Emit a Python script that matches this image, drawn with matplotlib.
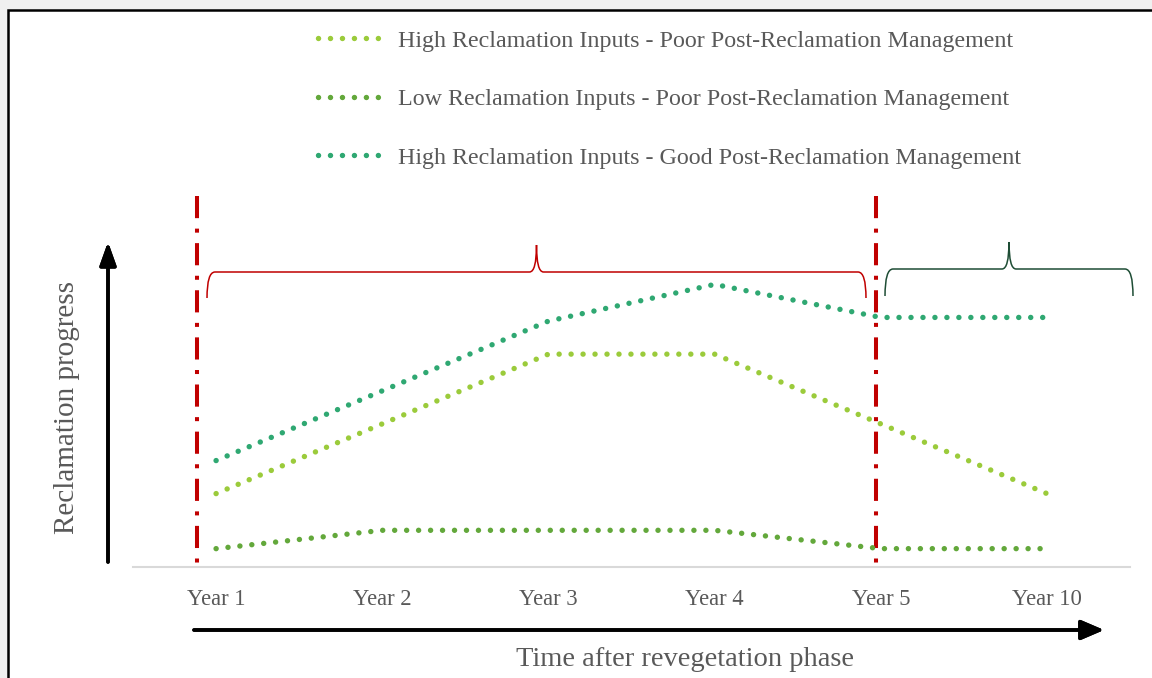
import matplotlib.pyplot as plt
from matplotlib.lines import Line2D
from matplotlib.patches import Rectangle, PathPatch
from matplotlib.path import Path
import matplotlib.transforms as mtransforms

# datos (escala relativa 0-100)
years = ['Year 1', 'Year 2', 'Year 3', 'Year 4', 'Year 5', 'Year 10']
high_poor = [20, 39, 58, 58, 39, 20]
low_poor = [5, 10, 10, 10, 5, 5]
high_good = [29, 48, 67, 77, 68, 68]

labels = ['High Reclamation Inputs - Poor Post-Reclamation Management',
          'Low Reclamation Inputs - Poor Post-Reclamation Management',
          'High Reclamation Inputs - Good Post-Reclamation Management']
colores = ['#9BCB3B', '#63A83B', '#2FA872']

plt.rcParams['font.family'] = ['Liberation Serif', 'DejaVu Serif']
gris = '#595959'

W, H = 1152, 678
fig = plt.figure(figsize=(W / 100, H / 100), dpi=100, facecolor='#F0F0F0')


def px(x, y):
    # pixeles (arriba-izquierda) -> fraccion de figura
    return x / W, 1 - y / H


# marco blanco con borde negro
fig.patches.append(Rectangle(px(7.5, 9.5), 1.2, -1.2, transform=fig.transFigure,
                             facecolor='white', edgecolor='black', linewidth=1.8, zorder=-10))

ax = fig.add_axes([133 / W, 1 - 567 / H, 997 / W, 367 / H])
ax.set_facecolor('none')

x = range(len(years))
estilo = dict(linewidth=3.9, linestyle=(0, (0.01, 2.2)), dash_capstyle='round')
for serie, lab, c in zip([high_poor, low_poor, high_good], labels, colores):
    ax.plot(x, serie, color=c, label=lab, **estilo)

ax.set_xlim(-0.5, 5.5)
ax.set_ylim(0, 100)
ax.set_xticks(list(x))
ax.set_xticklabels(years, fontsize=16.3, color=gris)
ax.set_yticks([])
ax.tick_params(axis='x', length=0, pad=16)
for s in ['top', 'right', 'left']:
    ax.spines[s].set_visible(False)
ax.spines['bottom'].set_color('#D9D9D9')
ax.spines['bottom'].set_linewidth(1.5)

# lineas verticales rojas (limites de fase), dibujadas de arriba hacia abajo
trans = mtransforms.blended_transform_factory(ax.transData, ax.transAxes)
for xv in [-0.115, 3.971]:
    ax.plot([xv, xv], [1.01, -0.01], transform=trans, clip_on=False, color='#C00000',
            linewidth=2.9, linestyle=(0, (5.5, 2.6, 1, 2.6)), dash_capstyle='butt', zorder=1)


# llaves
def llave(x0, x1, y, baja, punta, color):
    xm = (x0 + x1) / 2
    pts = [(x0, y + baja), (x0, y), (x0 + 8, y), (xm - 7, y), (xm, y), (xm, y - punta),
           (xm, y), (xm + 7, y), (x1 - 8, y), (x1, y), (x1, y + baja)]
    codes = [Path.MOVETO, Path.CURVE3, Path.CURVE3, Path.LINETO, Path.CURVE3, Path.CURVE3,
             Path.CURVE3, Path.CURVE3, Path.LINETO, Path.CURVE3, Path.CURVE3]
    verts = [px(a, b) for a, b in pts]
    fig.patches.append(PathPatch(Path(verts, codes), transform=fig.transFigure,
                                 fill=False, edgecolor=color, linewidth=1.1))


llave(207, 866, 272, 26, 27, '#C00000')
llave(885, 1133, 269, 27, 27, '#1E4D35')

# flechas de los ejes
fig.add_artist(plt.annotate('', xy=px(108, 242), xytext=px(108, 562), xycoords='figure fraction',
                            arrowprops=dict(arrowstyle='-|>,head_length=1.4,head_width=0.5',
                                            color='black', lw=2.6, shrinkA=0, shrinkB=0)))
fig.add_artist(plt.annotate('', xy=px(1104, 630), xytext=px(194, 630), xycoords='figure fraction',
                            arrowprops=dict(arrowstyle='-|>,head_length=1.4,head_width=0.6',
                                            color='black', lw=2.6, shrinkA=0, shrinkB=0)))

fig.text(*px(67, 407), 'Reclamation progress', rotation=90, ha='center', va='center',
         fontsize=21, color=gris)
fig.text(*px(685, 659), 'Time after revegetation phase', ha='center', va='center',
         fontsize=20.5, color=gris)

handles = [Line2D([], [], color=c, **estilo) for c in colores]
fig.legend(handles, labels, loc='upper left', bbox_to_anchor=px(318, 30), frameon=False,
           fontsize=17.3, labelcolor=gris, handlelength=2.9, handletextpad=0.45,
           labelspacing=1.52, borderaxespad=0, borderpad=0)

fig.savefig('out.png', dpi=100, facecolor=fig.get_facecolor())
